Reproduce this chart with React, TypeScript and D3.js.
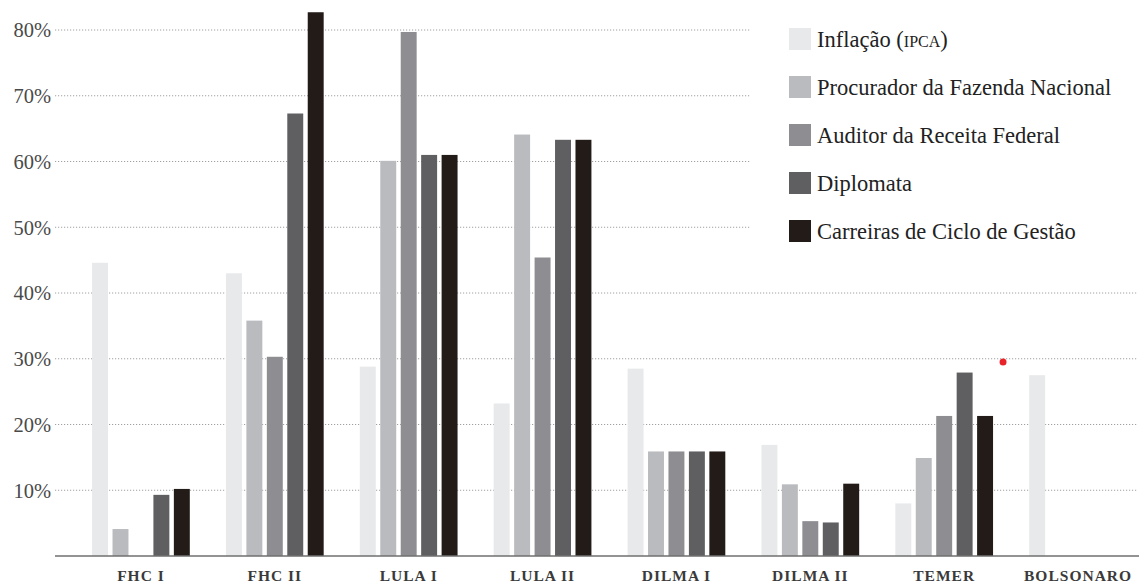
import React, { useEffect } from "react";
import * as d3 from "d3";

const categories = ["FHC I", "FHC II", "LULA I", "LULA II", "DILMA I", "DILMA II", "TEMER", "BOLSONARO"];
const seriesNames = [
  "Inflação (IPCA)",
  "Procurador da Fazenda Nacional",
  "Auditor da Receita Federal",
  "Diplomata",
  "Carreiras de Ciclo de Gestão",
];
const inflacao = [44.6, 43.0, 28.8, 23.2, 28.5, 16.9, 8.0, 27.5];
const procurador = [4.1, 35.8, 60.1, 64.1, 15.9, 10.9, 14.9, null];
const auditor = [0, 30.3, 79.7, 45.4, 15.9, 5.3, 21.3, null];
const diplomata = [9.3, 67.3, 61.0, 63.3, 15.9, 5.1, 27.9, null];
const carreiras = [10.2, 82.7, 61.0, 63.3, 15.9, 11.0, 21.3, null];
const yTicks = [10, 20, 30, 40, 50, 60, 70, 80];
const colors = ["#e8e9eb", "#babbbf", "#8e8e92", "#5f5f62", "#221b18"];
const annotationValue = 29.5;

const seriesValues = [inflacao, procurador, auditor, diplomata, carreiras];

const W = 1139;
const H = 583;
const SERIF = "'Liberation Serif', 'Times New Roman', serif";

export default function App() {
  useEffect(() => {
    document.body.style.margin = "0";
  }, []);

  const y = d3.scaleLinear().domain([0, 80]).range([556, 30]);
  const x0 = d3
    .scaleBand<string>()
    .domain(categories)
    .range([74, 1145])
    .paddingInner(0.27)
    .paddingOuter(0.135);
  const x1 = d3
    .scaleBand<string>()
    .domain(seriesNames)
    .range([0, x0.bandwidth()])
    .paddingInner(0.22)
    .paddingOuter(0);

  const legendX = 789;
  const legendY = d3.scaleLinear().domain([0, 1]).range([39, 87]);

  const temerEnd = (x0("TEMER") as number) + x0.bandwidth();

  return (
    <svg width={W} height={H} style={{ display: "block", background: "#fff" }}>
      {/* grid */}
      {yTicks.map((t) => (
        <g key={t}>
          <line
            x1={55}
            x2={t >= 50 ? 750 : 1137}
            y1={y(t)}
            y2={y(t)}
            stroke="#a0a0a0"
            strokeWidth={1}
            strokeDasharray="1.2,1.8"
          />
          <text
            x={51}
            y={y(t)}
            dy="0.36em"
            textAnchor="end"
            fontFamily={SERIF}
            fontSize={20.5}
            fill="#4a4a4a"
          >
            {t}%
          </text>
        </g>
      ))}

      {/* bars */}
      {categories.map((c, ci) => (
        <g key={c} transform={`translate(${x0(c)},0)`}>
          {seriesNames.map((s, si) => {
            const v = seriesValues[si][ci];
            if (v == null || v === 0) return null;
            return (
              <rect
                key={s}
                x={x1(s)}
                y={y(v)}
                width={x1.bandwidth()}
                height={y(0) - y(v)}
                fill={colors[si]}
              />
            );
          })}
        </g>
      ))}

      {/* baseline */}
      <line x1={55} x2={W} y1={y(0)} y2={y(0)} stroke="#6f6f6f" strokeWidth={1.6} />

      {/* category labels */}
      {categories.map((c) => (
        <text
          key={c}
          x={(x0(c) as number) + x0.bandwidth() / 2}
          y={581}
          textAnchor="middle"
          fontFamily={SERIF}
          fontSize={15.5}
          fontWeight="bold"
          letterSpacing={1}
          fill="#3a3a3a"
        >
          {c}
        </text>
      ))}

      {/* annotation dot */}
      <circle cx={temerEnd + 10} cy={y(annotationValue)} r={3.5} fill="#e8242a" />

      {/* legend */}
      {seriesNames.map((s, i) => {
        const cy = legendY(i);
        return (
          <g key={s}>
            <rect x={legendX} y={cy - 11} width={22} height={22} fill={colors[i]} />
            <text
              x={legendX + 28}
              y={cy}
              dy="0.35em"
              fontFamily={SERIF}
              fontSize={22.5}
              fill="#222"
            >
              {i === 0 ? (
                <>
                  Inflação (<tspan fontSize={16}>IPCA</tspan>)
                </>
              ) : (
                s
              )}
            </text>
          </g>
        );
      })}
    </svg>
  );
}
